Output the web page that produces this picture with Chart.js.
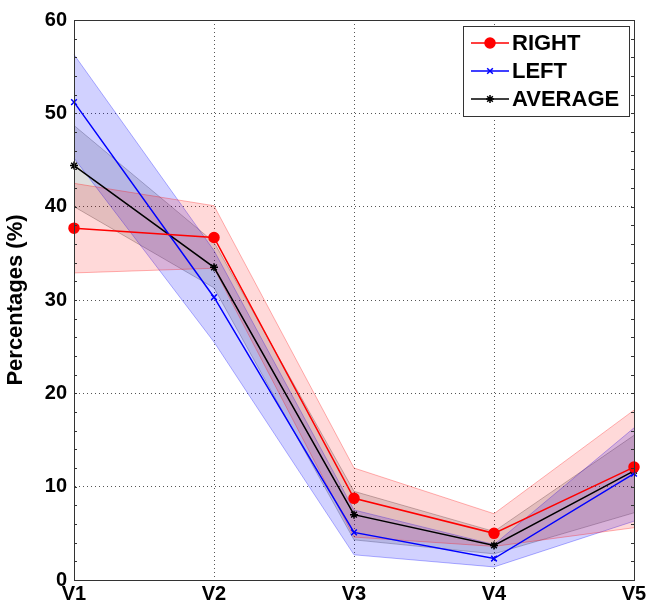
<!DOCTYPE html>
<html>
<head>
<meta charset="utf-8">
<script src="https://cdn.jsdelivr.net/npm/chart.js@4/dist/chart.umd.min.js"></script>
<style>
  html, body { margin: 0; padding: 0; background: #fff; }
  #wrap { width: 648px; height: 608px; }
</style>
</head>
<body>
<div id="wrap"><canvas id="myChart" width="648" height="608"></canvas></div>
<script>
const categories = ['V1', 'V2', 'V3', 'V4', 'V5'];
const yTicks = [0, 10, 20, 30, 40, 50, 60];

const rightMean = [37.7, 36.7, 8.75, 5.0, 12.1];
const rightUpper = [42.5, 40.1, 12.0, 7.1, 18.2];
const rightLower = [32.9, 33.4, 4.6, 3.6, 5.6];

const leftMean = [51.2, 30.3, 5.1, 2.3, 11.4];
const leftUpper = [56.3, 35.3, 7.5, 3.8, 16.3];
const leftLower = [45.2, 25.5, 2.7, 1.4, 6.3];

const avgMean = [44.4, 33.5, 7.0, 3.7, 11.7];
const avgUpper = [48.7, 36.2, 9.5, 5.2, 15.5];
const avgLower = [40.0, 31.3, 4.3, 2.8, 7.2];

const FONT = '"Liberation Sans", Arial, sans-serif';

const band = (data, fill, bg, edge) => ({
  data: data,
  fill: fill,
  backgroundColor: bg,
  borderColor: edge,
  borderWidth: 1,
  pointRadius: 0,
  tension: 0,
  order: 2,
  isBand: true
});

const line = (label, data, color, style, radius) => ({
  label: label,
  data: data,
  fill: false,
  borderColor: color,
  backgroundColor: color,
  borderWidth: 1.5,
  pointStyle: style,
  pointRadius: radius,
  pointBorderWidth: 1.5,
  tension: 0,
  order: 1
});

// box around plot, minor ticks, legend
const frame = {
  id: 'frame',
  afterDraw(chart) {
    const {ctx, chartArea: a, scales} = chart;
    ctx.save();
    ctx.strokeStyle = '#333';
    ctx.lineWidth = 1;
    ctx.strokeRect(a.left + 0.5, a.top + 0.5, a.right - a.left, a.bottom - a.top);
    // minor ticks on y axis
    ctx.beginPath();
    for (let v = 0; v <= 60; v += 2) {
      const y = Math.round(scales.y.getPixelForValue(v)) + 0.5;
      ctx.moveTo(a.left, y); ctx.lineTo(a.left + 3, y);
      ctx.moveTo(a.right, y); ctx.lineTo(a.right - 3, y);
    }
    ctx.stroke();

    // legend
    const items = chart.data.datasets.filter(d => !d.isBand);
    const bx = a.right - 171, by = a.top + 6, bw = 166, bh = 90;
    ctx.fillStyle = '#fff';
    ctx.fillRect(bx, by, bw, bh);
    ctx.strokeStyle = '#333';
    ctx.strokeRect(bx + 0.5, by + 0.5, bw, bh);
    ctx.font = 'bold 22px ' + FONT;
    ctx.textBaseline = 'middle';
    items.forEach((d, i) => {
      const y = by + 17 + i * 28;
      ctx.strokeStyle = d.borderColor;
      ctx.lineWidth = 1.5;
      ctx.beginPath();
      ctx.moveTo(bx + 8, y); ctx.lineTo(bx + 46, y);
      ctx.stroke();
      ctx.fillStyle = d.borderColor;
      Chart.helpers.drawPoint(ctx, {pointStyle: d.pointStyle, radius: d.pointRadius, borderWidth: 1.5}, bx + 27, y);
      ctx.fillStyle = '#000';
      ctx.fillText(d.label, bx + 49, y + 1);
    });
    ctx.restore();
  }
};

const ctx = document.getElementById('myChart').getContext('2d');
new Chart(ctx, {
  type: 'line',
  data: {
    labels: categories,
    datasets: [
      band(rightUpper, '+1', 'rgba(255,0,0,0.15)', 'rgba(255,0,0,0.3)'),
      band(rightLower, false, 'rgba(255,0,0,0.15)', 'rgba(255,0,0,0.3)'),
      band(leftUpper, '+1', 'rgba(0,0,255,0.18)', 'rgba(0,0,255,0.3)'),
      band(leftLower, false, 'rgba(0,0,255,0.18)', 'rgba(0,0,255,0.3)'),
      band(avgUpper, '+1', 'rgba(0,0,0,0.13)', 'rgba(0,0,0,0.25)'),
      band(avgLower, false, 'rgba(0,0,0,0.13)', 'rgba(0,0,0,0.25)'),
      line('RIGHT', rightMean, '#ff0000', 'circle', 5),
      line('LEFT', leftMean, '#0000ff', 'crossRot', 4),
      line('AVERAGE', avgMean, '#000000', 'star', 4)
    ]
  },
  options: {
    responsive: false,
    animation: false,
    events: [],
    layout: { padding: { top: 20, right: 14, left: 0, bottom: 0 } },
    plugins: { legend: { display: false }, tooltip: { enabled: false } },
    scales: {
      x: {
        type: 'category',
        offset: false,
        grid: { color: '#555', drawTicks: false },
        border: { display: true, color: '#333', dash: [1, 3] },
        ticks: { color: '#000', padding: 2, font: { family: FONT, size: 20, weight: 'bold' }, maxRotation: 0, autoSkip: false },
        afterFit(s) { s.height = 28; s.paddingLeft = 0; s.paddingRight = 0; }
      },
      y: {
        min: 0,
        max: 60,
        afterBuildTicks(s) { s.ticks = yTicks.map(v => ({ value: v })); },
        grid: { color: '#555', drawTicks: false },
        border: { display: true, color: '#333', dash: [1, 3] },
        ticks: { color: '#000', padding: 7, font: { family: FONT, size: 20, weight: 'bold' } },
        title: {
          display: true,
          text: 'Percentages (%)',
          color: '#000',
          padding: { top: 3, bottom: 0 },
          font: { family: FONT, size: 22, weight: 'bold' }
        },
        afterFit(s) { s.width = 74; }
      }
    }
  },
  plugins: [frame]
});
</script>
</body>
</html>
